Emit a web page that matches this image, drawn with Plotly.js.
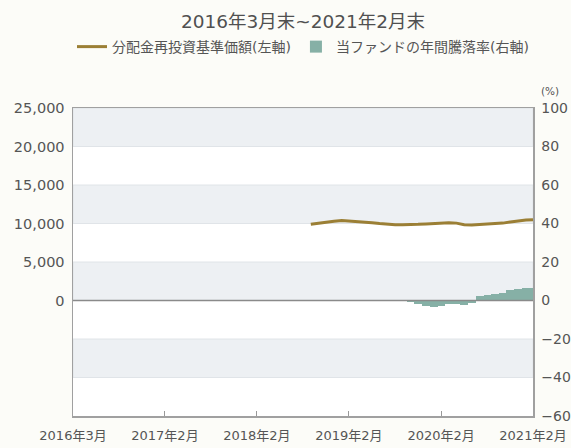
<!DOCTYPE html>
<html><head><meta charset="utf-8">
<script src="https://cdn.plot.ly/plotly-3.0.1.min.js"></script>
<style>html,body{margin:0;padding:0;background:#fcfcf8;}#chart{width:571px;height:448px;}</style>
</head><body><div id="chart"></div>
<script>
// NAV (分配金再投資基準価額, 左軸, 円)
const navDates = ['2018-09-30','2018-10-31','2018-11-30','2018-12-31','2019-01-31','2019-02-28','2019-03-31','2019-04-30','2019-05-31','2019-06-30','2019-07-31','2019-08-31','2019-09-30','2019-10-31','2019-11-30','2019-12-31','2020-01-31','2020-02-29','2020-03-31','2020-04-30','2020-05-31','2020-06-30','2020-07-31','2020-08-31','2020-09-30','2020-10-31','2020-11-30','2020-12-31','2021-01-31','2021-02-28'];
const navValues = [9900,10050,10200,10300,10400,10350,10300,10150,10100,10000,9900,9850,9850,9850,9900,9950,10000,10050,10100,10050,9850,9800,9850,9900,9950,10050,10200,10350,10450,10500];
// 年間騰落率 (右軸, %)
const retDates = ['2019-09-30','2019-10-31','2019-11-30','2019-12-31','2020-01-31','2020-02-29','2020-03-31','2020-04-30','2020-05-31','2020-06-30','2020-07-31','2020-08-31','2020-09-30','2020-10-31','2020-11-30','2020-12-31','2021-01-31','2021-02-28'];
const retValues = [-0.5,-1.0,-2.0,-3.0,-3.2,-3.0,-2.0,-2.0,-2.2,-1.5,2.5,3.0,3.5,4.0,5.5,6.0,6.5,6.3];
// axis ticks
const xTickVals = ['2016-02-29','2017-02-28','2018-02-28','2019-02-28','2020-02-29','2021-02-28'];
const xTickText = ['2016年3月','2017年2月','2018年2月','2019年2月','2020年2月','2021年2月'];
const leftTicks = [0,5000,10000,15000,20000,25000];
const rightTicks = [-60,-40,-20,0,20,40,60,80,100];
const bands = [[80,100],[40,60],[0,20],[-40,-20]];

const FONT = 'DejaVu Sans, Noto Sans CJK JP, sans-serif';
const traces = [
  {type:'bar', x:retDates, y:retValues, yaxis:'y2', name:'当ファンドの年間騰落率(右軸)',
   marker:{color:'#86b0a6', line:{width:0}}, width:31*86400000},
  {type:'scatter', mode:'lines', x:navDates, y:navValues, yaxis:'y', name:'分配金再投資基準価額(左軸)',
   line:{color:'#9b7f35', width:3}}
];
const shapes = bands.map(b => ({type:'rect', xref:'paper', yref:'y2', x0:0, x1:1, y0:b[0], y1:b[1],
  fillcolor:'#edf0f3', line:{width:1, color:'#e0e4e8'}, layer:'below'}));
shapes.push({type:'line', xref:'paper', yref:'y2', x0:0, x1:1, y0:0, y1:0, line:{color:'#8a8a8a', width:1.5}, layer:'above'});

const layout = {
  width:571, height:448,
  margin:{l:73, r:38, t:108, b:32},
  paper_bgcolor:'#fcfcf8', plot_bgcolor:'#ffffff',
  font:{family:FONT, size:13, color:'#555'},
  title:{text:'2016年3月末~2021年2月末', font:{family:FONT, size:18.5, color:'#505050'}, x:0.5, xref:'paper', xanchor:'center', y:1-22/448, yanchor:'middle'},
  showlegend:true,
  legend:{orientation:'h', x:0.5, xanchor:'center', y:1.198, yanchor:'middle', font:{size:14, color:'#555'}, traceorder:'reversed', itemwidth:30, tracegroupgap:0, bgcolor:'rgba(0,0,0,0)'},
  bargap:0,
  xaxis:{type:'date', range:['2016-02-29','2021-02-28'], tickvals:xTickVals, ticktext:xTickText,
    ticks:'inside', ticklen:5, tickcolor:'#999', showgrid:false, zeroline:false, ticklabelstandoff:7,
    showline:true, linecolor:'#a0a0a0', linewidth:1.5, mirror:true, tickfont:{size:13, color:'#555'}},
  yaxis:{range:[-15000,25000], tickvals:leftTicks, tickformat:',d', showgrid:false, zeroline:false,
    showline:true, linecolor:'#a0a0a0', linewidth:1.5, ticks:'', ticklabelstandoff:4, tickfont:{size:14.5, color:'#555'}},
  yaxis2:{overlaying:'y', side:'right', range:[-60,100], tickvals:rightTicks, showgrid:false, zeroline:false,
    showline:true, linecolor:'#a0a0a0', linewidth:1.5, ticks:'', ticklabelstandoff:4, tickfont:{size:14, color:'#555'}},
  shapes:shapes,
  annotations:[{text:'(%)', xref:'paper', yref:'paper', x:1.012, y:1.0, xanchor:'left', yanchor:'bottom', yshift:9, showarrow:false, font:{size:10.5, color:'#555'}}]
};
Plotly.newPlot('chart', traces, layout, {displayModeBar:false, staticPlot:true});
</script></body></html>
